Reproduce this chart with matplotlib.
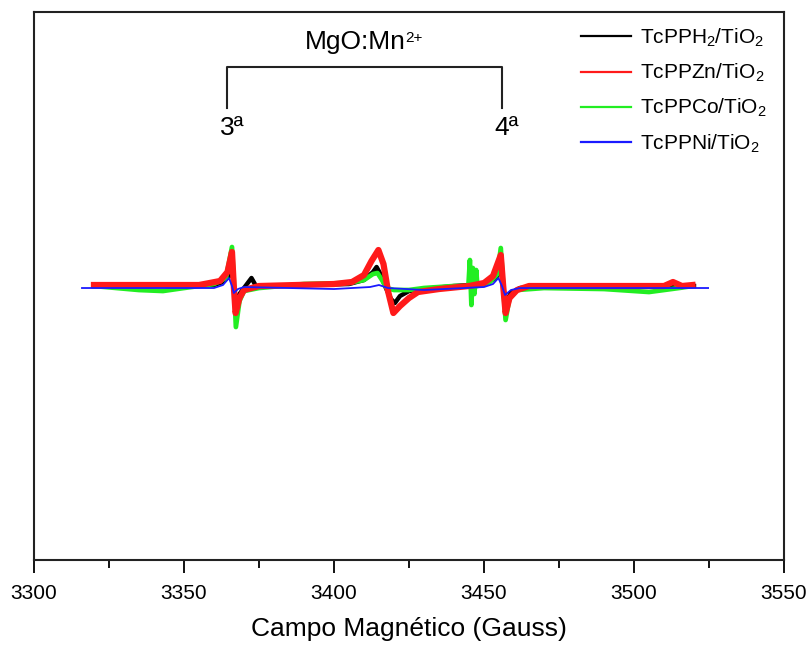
import matplotlib
matplotlib.use("Agg")
import matplotlib.pyplot as plt
from matplotlib.ticker import MultipleLocator
from matplotlib.lines import Line2D

plt.rcParams['font.family'] = ['Liberation Sans', 'DejaVu Sans']
plt.rcParams['mathtext.fontset'] = 'custom'
plt.rcParams['mathtext.rm'] = 'Liberation Sans'
plt.rcParams['mathtext.default'] = 'regular'

# campo (G) e intensidade (u.a.) dos espectros de EPR
campo_h2 = [3320, 3360, 3363, 3365, 3366, 3366.8, 3367.3, 3368.5, 3370, 3372.5, 3374,
            3405, 3410, 3413, 3414.2, 3415.5, 3417, 3419, 3420.3, 3422, 3425, 3430,
            3440, 3450, 3454, 3455.6, 3456.6, 3457.5, 3459, 3462, 3470, 3520]
int_h2 = [0, 1, 4, 10, 20, -8, -17, -8, -2, 8, 0,
          2, 6, 14, 19, 12, 0, -13, -17, -10, -5, -3,
          0, 2, 8, 18, -5, -15, -7, -2, 0, 0]

campo_zn = [3320, 3355, 3362, 3364.5, 3366, 3366.6, 3367.2, 3368.5, 3370, 3375,
            3400, 3406, 3410, 3412.5, 3414.8, 3416.5, 3418, 3419.8, 3422, 3425, 3428,
            3435, 3445, 3450, 3453, 3455.6, 3456.4, 3457.2, 3458.5, 3461, 3465,
            3510, 3513, 3516, 3519.5]
int_zn = [1, 1, 5, 14, 34, 0, -27, -12, -4, 0,
          2, 4, 11, 25, 36, 22, -5, -27, -20, -12, -6,
          -3, 0, 3, 10, 31, 0, -27, -12, -4, 0,
          0, 4, 0, 1]

campo_co = [3320, 3335, 3343, 3350, 3360, 3364, 3366, 3366.7, 3367.3, 3368.5, 3370, 3375,
            3390, 3405, 3410, 3413, 3414.5, 3416, 3417.5, 3420, 3425, 3430, 3440,
            3444.8, 3445.3, 3445.8, 3446.3, 3446.8, 3447.4, 3447.8, 3452, 3454.5,
            3455.6, 3456.4, 3457.2, 3458.5, 3461, 3470, 3490, 3505, 3515, 3519.5]
int_co = [0, -4, -5, -2, 2, 8, 39, 0, -41, -15, -5, -2,
          2, 3, 6, 12, 13, 6, -2, -4, -4, -2, 0,
          0, 26, -19, 18, -8, 16, 0, 4, 12,
          38, 0, -34, -12, -4, -2, -3, -6, -2, 0]

campo_ni = [3316, 3360, 3363, 3365, 3366, 3366.6, 3368, 3370, 3400, 3412, 3415, 3418,
            3430, 3450, 3453, 3454.8, 3456, 3457, 3459, 3462, 3524.7]
int_ni = [-2, -2, 1, 8, 0, -7, -3, -1, -3, -1, 1, -2,
          -4, -1, 2, 8, 0, -9, -4, -2, -2]

# linhas do MgO:Mn2+ usadas como referencia
mn_linhas = [3364.4, 3455.9]
mn_rotulos = ['3ª', '4ª']

series = [
    (campo_h2, int_h2, 'black', 3.2, 'TcPPH$_2$/TiO$_2$', 2),
    (campo_zn, int_zn, '#ff1a1a', 4.5, 'TcPPZn/TiO$_2$', 4),
    (campo_co, int_co, '#22ee22', 3.4, 'TcPPCo/TiO$_2$', 3),
    (campo_ni, int_ni, '#1a1aff', 1.3, 'TcPPNi/TiO$_2$', 5),
]

fig = plt.figure(figsize=(8.11, 6.46), dpi=100)
ax = fig.add_axes([0.0419, 0.1331, 0.9248, 0.8483])

handles = []
for x, y, cor, lw, nome, z in series:
    ax.plot(x, y, color=cor, lw=lw, zorder=z, solid_joinstyle='round')
    handles.append(Line2D([], [], color=cor, lw=1.6, label=nome))

# colchete MgO:Mn2+
ax.plot([mn_linhas[0], mn_linhas[0], mn_linhas[1], mn_linhas[1]],
        [178, 219, 219, 178], color='#222222', lw=1.5)
t = ax.text(sum(mn_linhas) / 2 - 3, 244, 'MgO:Mn', ha='center', va='center', fontsize=19)
ax.annotate('2+', xy=(1.0, 0.97), xycoords=t, xytext=(-0.5, 0), textcoords='offset points',
            ha='left', va='top', fontsize=11)
for xm, rot in zip(mn_linhas, mn_rotulos):
    ax.text(xm + 1.5, 158, rot, ha='center', va='center', fontsize=19)

ax.set_xlim(3300, 3550)
ax.set_ylim(-274, 274)
ax.set_yticks([])
ax.xaxis.set_major_locator(MultipleLocator(50))
ax.xaxis.set_minor_locator(MultipleLocator(25))
ax.tick_params(axis='x', which='major', direction='out', length=9, width=1.3,
               labelsize=15, pad=8)
ax.tick_params(axis='x', which='minor', direction='out', length=5.5, width=1.3)
for s in ax.spines.values():
    s.set_linewidth(1.5)
    s.set_color('#222222')

ax.set_xlabel('Campo Magnético (Gauss)', fontsize=19, labelpad=10)

ax.legend(handles=handles, loc='upper right', bbox_to_anchor=(0.997, 1.0), frameon=False,
          fontsize=15, handlelength=2.4, handletextpad=0.45, labelspacing=0.62,
          borderaxespad=0.3)

fig.savefig('out.png', dpi=100)
